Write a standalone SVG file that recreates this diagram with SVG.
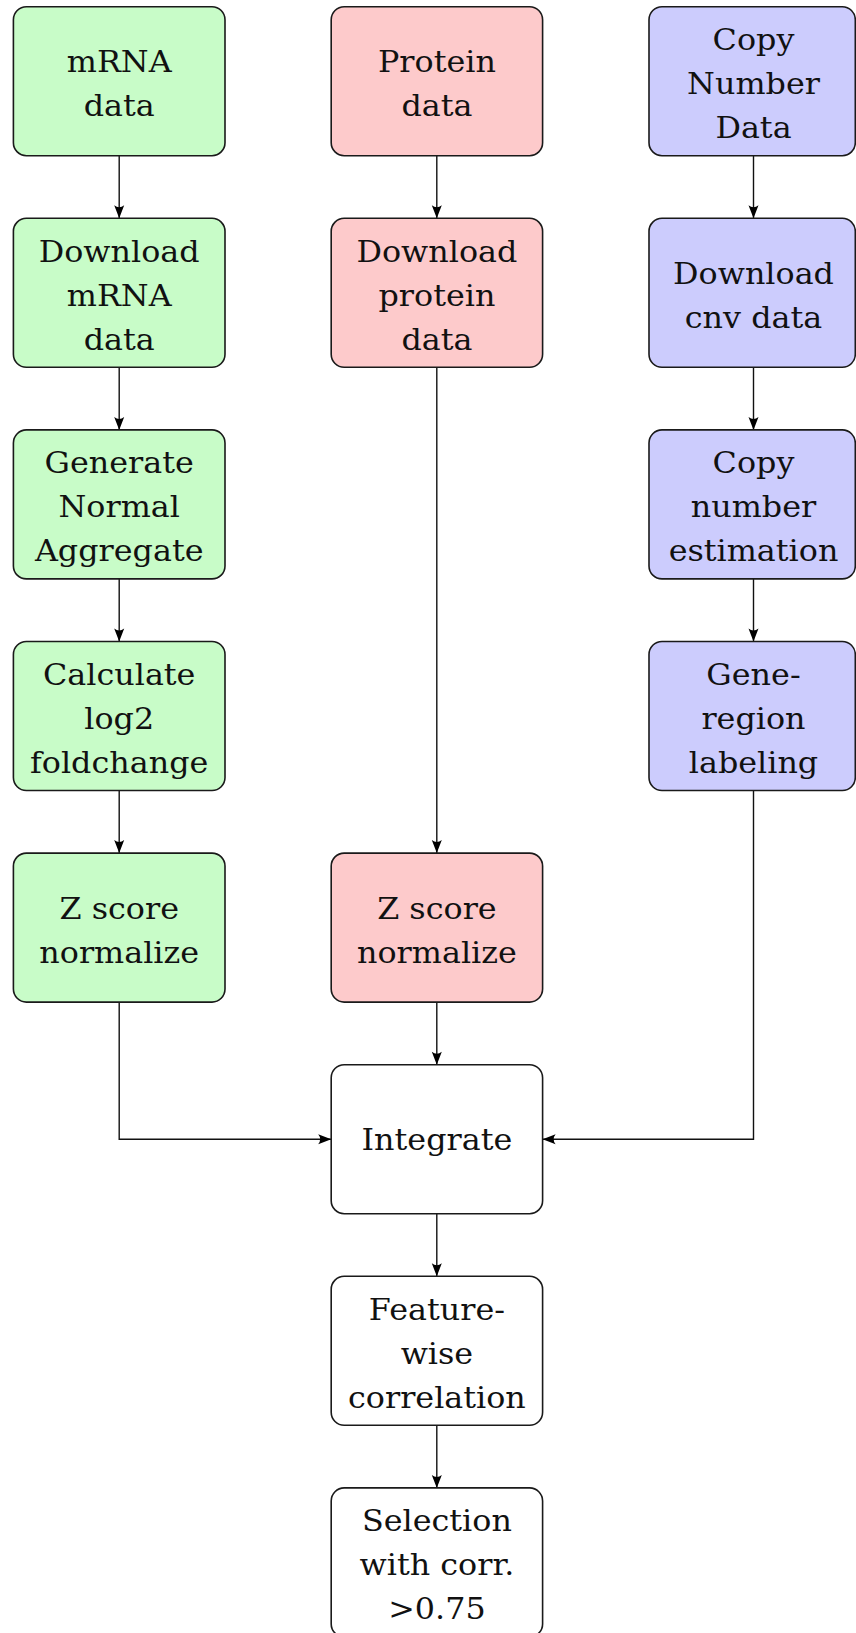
<svg xmlns="http://www.w3.org/2000/svg" width="856" height="1633" viewBox="0 0 856 1633">
  <defs>
    <marker id="arrow" viewBox="-15 -7 16 14" refX="0" refY="0" markerWidth="16" markerHeight="14" markerUnits="userSpaceOnUse" orient="auto">
      <path d="M0,0 L-13,-5 Q-9,0 -13,5 Z" fill="#000"/>
    </marker>
    <style>
      .box { stroke: #1a1a1a; stroke-width: 1.6; }
      .mrna { fill: #c8fcc8; }
      .prot { fill: #fdcacb; }
      .cnv { fill: #ccccfd; }
      .plain { fill: #ffffff; }
      .lbl { font-family: "DejaVu Serif", "Liberation Serif", serif; font-size: 30px; fill: #111; text-anchor: middle; }
      .conn { fill: none; stroke: #111; stroke-width: 1.4; marker-end: url(#arrow); }
    </style>
  </defs>

  <rect width="856" height="1633" fill="#ffffff"/>

  <!-- connectors -->
  <g id="connectors">
    <!-- mRNA column -->
    <line class="conn" x1="119.2" y1="155.7" x2="119.2" y2="218.3"/>
    <line class="conn" x1="119.2" y1="367.3" x2="119.2" y2="429.9"/>
    <line class="conn" x1="119.2" y1="578.9" x2="119.2" y2="641.5"/>
    <line class="conn" x1="119.2" y1="790.5" x2="119.2" y2="853.1"/>
    <polyline class="conn" points="119.2,1002.1 119.2,1139.2 331.2,1139.2"/>
    <!-- protein column -->
    <line class="conn" x1="436.8" y1="155.7" x2="436.8" y2="218.3"/>
    <line class="conn" x1="436.8" y1="367.3" x2="436.8" y2="853.1"/>
    <line class="conn" x1="436.8" y1="1002.1" x2="436.8" y2="1064.7"/>
    <line class="conn" x1="436.8" y1="1213.7" x2="436.8" y2="1276.3"/>
    <line class="conn" x1="436.8" y1="1425.3" x2="436.8" y2="1487.9"/>
    <!-- copy number column -->
    <line class="conn" x1="753.5" y1="155.7" x2="753.5" y2="218.3"/>
    <line class="conn" x1="753.5" y1="367.3" x2="753.5" y2="429.9"/>
    <line class="conn" x1="753.5" y1="578.9" x2="753.5" y2="641.5"/>
    <polyline class="conn" points="753.5,790.5 753.5,1139.2 542.6,1139.2"/>
  </g>

  <!-- mRNA column nodes -->
  <g id="mrna-data">
    <rect class="box mrna" x="13.4" y="6.7" width="211.6" height="149" rx="13"/>
    <g transform="translate(119.2,0) scale(1.06,1)">
      <text class="lbl" x="0" y="72.2">mRNA</text>
      <text class="lbl" x="0" y="116.2">data</text>
    </g>
  </g>
  <g id="download-mrna">
    <rect class="box mrna" x="13.4" y="218.3" width="211.6" height="149" rx="13"/>
    <g transform="translate(119.2,0) scale(1.06,1)">
      <text class="lbl" x="0" y="261.8">Download</text>
      <text class="lbl" x="0" y="305.8">mRNA</text>
      <text class="lbl" x="0" y="349.8">data</text>
    </g>
  </g>
  <g id="normal-aggregate">
    <rect class="box mrna" x="13.4" y="429.9" width="211.6" height="149" rx="13"/>
    <g transform="translate(119.2,0) scale(1.06,1)">
      <text class="lbl" x="0" y="473.4">Generate</text>
      <text class="lbl" x="0" y="517.4">Normal</text>
      <text class="lbl" x="0" y="561.4">Aggregate</text>
    </g>
  </g>
  <g id="log2-foldchange">
    <rect class="box mrna" x="13.4" y="641.5" width="211.6" height="149" rx="13"/>
    <g transform="translate(119.2,0) scale(1.06,1)">
      <text class="lbl" x="0" y="685">Calculate</text>
      <text class="lbl" x="0" y="729">log2</text>
      <text class="lbl" x="0" y="773">foldchange</text>
    </g>
  </g>
  <g id="zscore-mrna">
    <rect class="box mrna" x="13.4" y="853.1" width="211.6" height="149" rx="13"/>
    <g transform="translate(119.2,0) scale(1.06,1)">
      <text class="lbl" x="0" y="918.6">Z score</text>
      <text class="lbl" x="0" y="962.6">normalize</text>
    </g>
  </g>

  <!-- protein column nodes -->
  <g id="protein-data">
    <rect class="box prot" x="331.2" y="6.7" width="211.4" height="149" rx="13"/>
    <g transform="translate(436.9,0) scale(1.06,1)">
      <text class="lbl" x="0" y="72.2">Protein</text>
      <text class="lbl" x="0" y="116.2">data</text>
    </g>
  </g>
  <g id="download-protein">
    <rect class="box prot" x="331.2" y="218.3" width="211.4" height="149" rx="13"/>
    <g transform="translate(436.9,0) scale(1.06,1)">
      <text class="lbl" x="0" y="261.8">Download</text>
      <text class="lbl" x="0" y="305.8">protein</text>
      <text class="lbl" x="0" y="349.8">data</text>
    </g>
  </g>
  <g id="zscore-protein">
    <rect class="box prot" x="331.2" y="853.1" width="211.4" height="149" rx="13"/>
    <g transform="translate(436.9,0) scale(1.06,1)">
      <text class="lbl" x="0" y="918.6">Z score</text>
      <text class="lbl" x="0" y="962.6">normalize</text>
    </g>
  </g>
  <g id="integrate">
    <rect class="box plain" x="331.2" y="1064.7" width="211.4" height="149" rx="13"/>
    <g transform="translate(436.9,0) scale(1.06,1)">
      <text class="lbl" x="0" y="1150.5">Integrate</text>
    </g>
  </g>
  <g id="correlation">
    <rect class="box plain" x="331.2" y="1276.3" width="211.4" height="149" rx="13"/>
    <g transform="translate(436.9,0) scale(1.06,1)">
      <text class="lbl" x="0" y="1319.8">Feature-</text>
      <text class="lbl" x="0" y="1363.8">wise</text>
      <text class="lbl" x="0" y="1407.8">correlation</text>
    </g>
  </g>
  <g id="selection">
    <rect class="box plain" x="331.2" y="1487.9" width="211.4" height="149" rx="13"/>
    <g transform="translate(436.9,0) scale(1.06,1)">
      <text class="lbl" x="0" y="1531.4">Selection</text>
      <text class="lbl" x="0" y="1575.4">with corr.</text>
      <text class="lbl" x="0" y="1619.4">&gt;0.75</text>
    </g>
  </g>

  <!-- copy number column nodes -->
  <g id="cnv-data">
    <rect class="box cnv" x="649" y="6.7" width="206.3" height="149" rx="13"/>
    <g transform="translate(753.5,0) scale(1.06,1)">
      <text class="lbl" x="0" y="50.2">Copy</text>
      <text class="lbl" x="0" y="94.2">Number</text>
      <text class="lbl" x="0" y="138.2">Data</text>
    </g>
  </g>
  <g id="download-cnv">
    <rect class="box cnv" x="649" y="218.3" width="206.3" height="149" rx="13"/>
    <g transform="translate(753.5,0) scale(1.06,1)">
      <text class="lbl" x="0" y="283.8">Download</text>
      <text class="lbl" x="0" y="327.8">cnv data</text>
    </g>
  </g>
  <g id="cn-estimation">
    <rect class="box cnv" x="649" y="429.9" width="206.3" height="149" rx="13"/>
    <g transform="translate(753.5,0) scale(1.06,1)">
      <text class="lbl" x="0" y="473.4">Copy</text>
      <text class="lbl" x="0" y="517.4">number</text>
      <text class="lbl" x="0" y="561.4">estimation</text>
    </g>
  </g>
  <g id="gene-region">
    <rect class="box cnv" x="649" y="641.5" width="206.3" height="149" rx="13"/>
    <g transform="translate(753.5,0) scale(1.06,1)">
      <text class="lbl" x="0" y="685">Gene-</text>
      <text class="lbl" x="0" y="729">region</text>
      <text class="lbl" x="0" y="773">labeling</text>
    </g>
  </g>
</svg>
